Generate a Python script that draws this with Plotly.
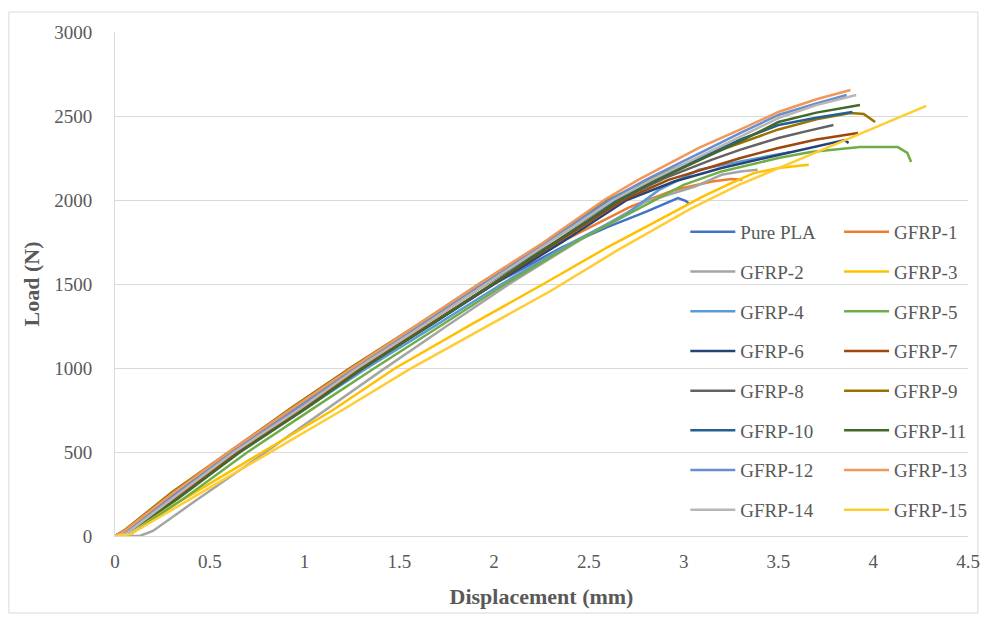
import plotly.graph_objects as go

# ---- data (displacement in mm, load in N) ----
names = ["Pure PLA", "GFRP-1", "GFRP-2", "GFRP-3", "GFRP-4", "GFRP-5", "GFRP-6", "GFRP-7",
         "GFRP-8", "GFRP-9", "GFRP-10", "GFRP-11", "GFRP-12", "GFRP-13", "GFRP-14", "GFRP-15"]
colors = ["#4472C4", "#ED7D31", "#A5A5A5", "#FFC000", "#5B9BD5", "#70AD47", "#264478", "#9E480E",
          "#636363", "#997300", "#255E91", "#43682B", "#698ED0", "#F1975A", "#B7B7B7", "#FFCD33"]

pla_d = [0, 0.05, 0.33, 0.65, 1.0, 1.3, 1.67, 2.0, 2.36, 2.6, 2.8, 2.97, 3.01, 3.03]
pla_l = [0, 30, 240, 500, 770, 1000, 1260, 1500, 1720, 1840, 1929, 2012, 1995, 1976]

g1_d = [0, 0.05, 0.33, 0.65, 1.0, 1.3, 1.66, 2.0, 2.37, 2.72, 2.95, 3.15, 3.25, 3.31]
g1_l = [0, 20, 240, 500, 770, 1000, 1260, 1500, 1760, 1960, 2060, 2110, 2125, 2120]

g2_d = [0, 0.13, 0.2, 0.4, 0.72, 1.1, 1.4, 1.75, 2.08, 2.45, 2.8, 3.06, 3.2, 3.3, 3.39]
g2_l = [0, 0, 30, 190, 440, 740, 980, 1250, 1500, 1760, 1990, 2080, 2150, 2170, 2180]

g3_d = [0, 0.05, 0.4, 0.78, 1.15, 1.48, 1.88, 2.26, 2.6, 2.9, 3.1, 3.25, 3.37, 3.5, 3.66]
g3_l = [0, 15, 245, 500, 750, 1000, 1260, 1500, 1720, 1900, 2020, 2100, 2160, 2190, 2210]

g4_d = [0, 0.05, 0.33, 0.66, 1.02, 1.33, 1.7, 2.04, 2.4, 2.69, 2.87, 3.08, 3.3, 3.56]
g4_l = [0, 20, 230, 500, 770, 1000, 1260, 1500, 1740, 1911, 2060, 2180, 2230, 2285]

g5_d = [0, 0.08, 0.36, 0.7, 1.06, 1.37, 1.73, 2.06, 2.43, 2.78, 3.0, 3.2, 3.5, 3.67, 3.93, 4.13, 4.18, 4.2]
g5_l = [0, 10, 220, 500, 770, 1000, 1260, 1500, 1750, 1960, 2090, 2170, 2250, 2286, 2315, 2315, 2280, 2226]

g6_d = [0, 0.06, 0.33, 0.65, 1.0, 1.31, 1.67, 2.0, 2.36, 2.7, 2.95, 3.2, 3.5, 3.7, 3.85, 3.87]
g6_l = [0, 20, 230, 500, 770, 1000, 1260, 1500, 1750, 2000, 2110, 2190, 2268, 2320, 2357, 2340]

g7_d = [0, 0.05, 0.32, 0.65, 1.0, 1.3, 1.66, 1.99, 2.34, 2.68, 2.92, 3.15, 3.3, 3.5, 3.7, 3.92]
g7_l = [0, 10, 220, 500, 770, 1000, 1260, 1500, 1750, 2000, 2120, 2200, 2250, 2310, 2360, 2399]

g8_d = [0, 0.05, 0.32, 0.62, 0.96, 1.27, 1.63, 1.96, 2.32, 2.66, 2.9, 3.15, 3.3, 3.5, 3.65, 3.79]
g8_l = [0, 30, 250, 500, 770, 1000, 1260, 1500, 1750, 2000, 2130, 2240, 2300, 2369, 2410, 2446]

g9_d = [0, 0.05, 0.3, 0.6, 0.94, 1.24, 1.6, 1.92, 2.27, 2.6, 2.85, 3.15, 3.3, 3.5, 3.7, 3.88, 3.95, 4.01]
g9_l = [0, 35, 260, 500, 770, 1000, 1260, 1500, 1750, 2000, 2140, 2280, 2340, 2420, 2480, 2518, 2512, 2464]

g10_d = [0, 0.05, 0.3, 0.62, 0.97, 1.27, 1.63, 1.95, 2.3, 2.64, 2.86, 3.15, 3.3, 3.5, 3.7, 3.89]
g10_l = [0, 25, 230, 500, 770, 1000, 1260, 1500, 1760, 2000, 2130, 2280, 2360, 2446, 2490, 2524]

g11_d = [0, 0.05, 0.33, 0.66, 1.01, 1.31, 1.67, 1.99, 2.33, 2.66, 2.86, 3.15, 3.3, 3.5, 3.7, 3.93]
g11_l = [0, 10, 220, 500, 760, 1000, 1260, 1500, 1750, 2000, 2120, 2270, 2350, 2464, 2520, 2565]

g12_d = [0, 0.05, 0.3, 0.62, 0.96, 1.27, 1.62, 1.94, 2.28, 2.61, 2.8, 3.1, 3.3, 3.5, 3.7, 3.86]
g12_l = [0, 20, 230, 500, 760, 1000, 1260, 1500, 1750, 2000, 2120, 2290, 2400, 2506, 2575, 2625]

g13_d = [0, 0.05, 0.3, 0.6, 0.95, 1.25, 1.6, 1.92, 2.25, 2.58, 2.76, 3.08, 3.3, 3.5, 3.7, 3.88]
g13_l = [0, 30, 250, 500, 770, 1000, 1260, 1500, 1740, 2000, 2120, 2310, 2420, 2524, 2600, 2655]

g14_d = [0, 0.06, 0.3, 0.63, 0.98, 1.28, 1.63, 1.96, 2.3, 2.63, 2.83, 3.12, 3.3, 3.5, 3.7, 3.91]
g14_l = [0, 15, 220, 500, 760, 1000, 1255, 1500, 1750, 2000, 2120, 2280, 2380, 2488, 2565, 2625]

g15_d = [0, 0.08, 0.45, 0.82, 1.2, 1.55, 1.95, 2.3, 2.65, 3.04, 3.3, 3.6, 3.9, 4.1, 4.28]
g15_l = [0, 10, 255, 500, 750, 990, 1240, 1460, 1700, 1950, 2094, 2237, 2380, 2475, 2560]

xs = [pla_d, g1_d, g2_d, g3_d, g4_d, g5_d, g6_d, g7_d, g8_d, g9_d, g10_d, g11_d, g12_d, g13_d, g14_d, g15_d]
ys = [pla_l, g1_l, g2_l, g3_l, g4_l, g5_l, g6_l, g7_l, g8_l, g9_l, g10_l, g11_l, g12_l, g13_l, g14_l, g15_l]

x_ticks = [0, 0.5, 1, 1.5, 2, 2.5, 3, 3.5, 4, 4.5]
x_ticktext = ["0", "0.5", "1", "1.5", "2", "2.5", "3", "3.5", "4", "4.5"]
y_ticks = [0, 500, 1000, 1500, 2000, 2500, 3000]

FONT = "Liberation Serif, Times New Roman, serif"
GREY = "#595959"

fig = go.Figure()
for i, (nm, c, x, y) in enumerate(zip(names, colors, xs, ys)):
    fig.add_trace(go.Scatter(
        x=x, y=y, mode="lines", name=nm,
        line=dict(color=c, width=2.5),
        legend="legend" if i % 2 == 0 else "legend2",
        legendgroup=nm,
    ))

W, H = 992, 619
L, R, T, B = 115, 17, 32, 83
pw, ph = W - L - R, H - T - B

def px(xp):
    return (xp - L) / pw

def py(yp):
    return (H - B - yp) / ph

legend_common = dict(
    font=dict(family=FONT, size=19, color=GREY),
    bgcolor="rgba(0,0,0,0)",
    orientation="v",
    tracegroupgap=12,
    itemwidth=45,
    xanchor="left", yanchor="top",
    traceorder="grouped",
)

fig.update_layout(
    width=W, height=H,
    margin=dict(l=L, r=R, t=T, b=B),
    paper_bgcolor="white", plot_bgcolor="white",
    font=dict(family=FONT, color=GREY),
    showlegend=True,
    legend=dict(x=px(690), y=py(213), **legend_common),
    legend2=dict(x=px(845), y=py(213), **legend_common),
    xaxis=dict(
        range=[0, 4.5], tickvals=x_ticks, ticktext=x_ticktext,
        showgrid=False, zeroline=False,
        showline=True, linecolor="#D9D9D9", linewidth=1,
        ticks="outside", ticklen=8, tickcolor="rgba(0,0,0,0)",
        tickfont=dict(family=FONT, size=19, color=GREY),
        title=dict(text="<b>Displacement (mm)</b>", font=dict(family=FONT, size=22, color=GREY), standoff=17),
    ),
    yaxis=dict(
        range=[0, 3000], tickvals=y_ticks,
        showgrid=True, gridcolor="#D9D9D9", gridwidth=1,
        zeroline=False,
        showline=True, linecolor="#D9D9D9", linewidth=1,
        ticks="outside", ticklen=18, tickcolor="rgba(0,0,0,0)",
        tickfont=dict(family=FONT, size=19, color=GREY),
        title=dict(text="<b>Load (N)</b>", font=dict(family=FONT, size=22, color=GREY), standoff=8),
    ),
    shapes=[dict(type="rect", xref="paper", yref="paper",
                 x0=px(8), x1=px(985), y0=py(613), y1=py(12),
                 line=dict(color="#D9D9D9", width=1), layer="below")],
)

fig.write_html("out.html")
